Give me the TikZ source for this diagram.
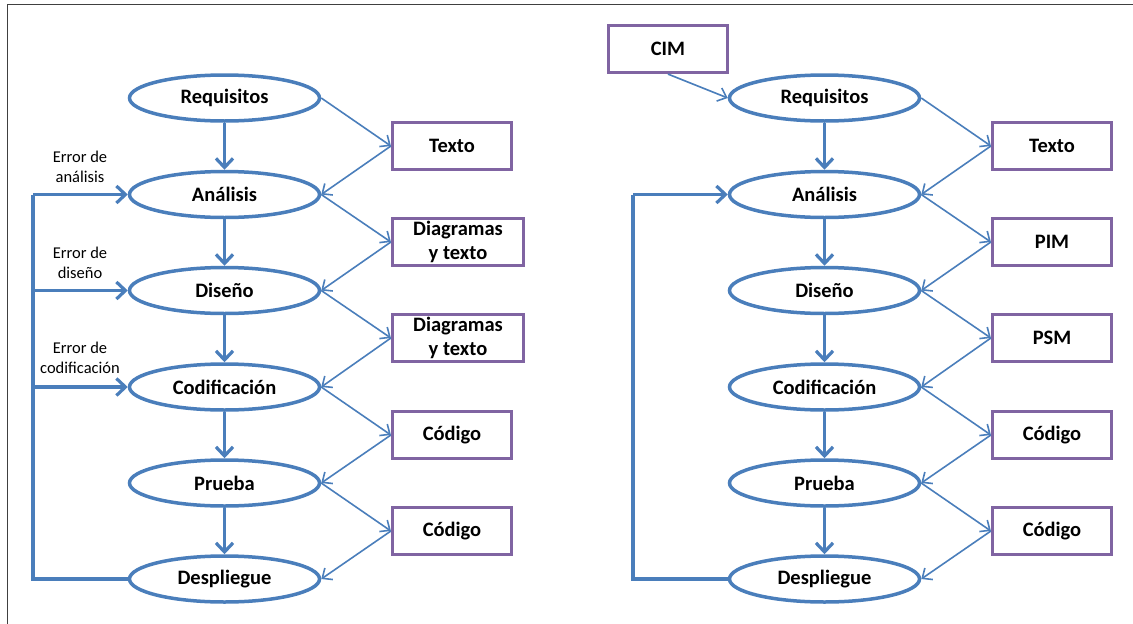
\documentclass[tikz,border=0pt]{standalone}
\usepackage{fontspec}
\setmainfont{Carlito}
\usetikzlibrary{arrows.meta,shapes.geometric}
\definecolor{flowblue}{HTML}{4A7EBB}
\definecolor{boxpurple}{HTML}{8064A2}
\definecolor{framegray}{HTML}{404040}
\begin{document}
\begin{tikzpicture}[x=1pt,y=-1pt,
  stage/.style={ellipse, draw=flowblue, line width=3.5pt, fill=white,
    minimum width=190pt, minimum height=46pt, inner sep=0pt,
    font=\fontsize{20.5}{24}\selectfont\bfseries},
  artefact/.style={rectangle, draw=boxpurple, line width=3.2pt, fill=white,
    minimum width=119pt, minimum height=47pt, inner sep=0pt, align=center,
    font=\fontsize{20.5}{24}\selectfont\bfseries},
  widebox/.style={artefact, minimum width=131pt},
  flow/.style={draw=flowblue, line width=3.2pt, -{Straight Barb[length=9pt,width=17pt]}},
  link/.style={draw=flowblue, line width=1.6pt, -{Straight Barb[length=8pt,width=14pt]}},
  feedback/.style={draw=flowblue, line width=3.2pt},
  note/.style={align=center, font=\fontsize{16.5}{20}\selectfont}
]
\useasboundingbox (0,0) rectangle (1133,624);

% page frame (left and top edges)
\draw[framegray, line width=1.6pt] (7.5,624) -- (7.5,4.5) -- (1133,4.5);

% ---------------- classic process ----------------
\node[stage] (a1) at (224.5,98)  {Requisitos};
\node[stage] (a2) at (224.5,194.5) {Análisis};
\node[stage] (a3) at (224.5,290.5) {Diseño};
\node[stage] (a4) at (224.5,387) {Codificación};
\node[stage] (a5) at (224.5,483) {Prueba};
\node[stage] (a6) at (224.5,579) {Despliegue};

\node[artefact] (ab1) at (452,146) {Texto};
\node[widebox]  (ab2) at (458,242) {Diagramas\\y texto};
\node[widebox]  (ab3) at (458,338) {Diagramas\\y texto};
\node[artefact] (ab4) at (452,435) {Código};
\node[artefact] (ab5) at (452,531) {Código};

\foreach \i/\j in {1/2,2/3,3/4,4/5,5/6}{
  \draw[flow] (a\i.south) -- (a\j.north);
  \draw[link] (a\i.east) -- (ab\i.west);
  \draw[link] (ab\i.west) -- (a\j.east);
}

\coordinate (aL) at (33,0);
\draw[feedback] (a6.west) -- (a6.west -| aL) -- (a2.west -| aL);
\draw[flow] (a2.west -| aL) -- (a2.west);
\draw[flow] (a3.west -| aL) -- (a3.west);
\draw[flow] (a4.west -| aL) -- (a4.west);

\node[note] (n1) at (80,167) {Error de\\análisis};
\node[note] (n2) at (80,263) {Error de\\diseño};
\node[note] (n3) at (80,358) {Error de\\codificación};

% ---------------- model-driven process ----------------
\node[stage] (b1) at (824.5,98)  {Requisitos};
\node[stage] (b2) at (824.5,194.5) {Análisis};
\node[stage] (b3) at (824.5,290.5) {Diseño};
\node[stage] (b4) at (824.5,387) {Codificación};
\node[stage] (b5) at (824.5,483) {Prueba};
\node[stage] (b6) at (824.5,579) {Despliegue};

\node[artefact] (cim) at (668,49) {CIM};
\node[artefact] (bb1) at (1052,146) {Texto};
\node[artefact] (bb2) at (1052,242) {PIM};
\node[artefact] (bb3) at (1052,338) {PSM};
\node[artefact] (bb4) at (1052,435) {Código};
\node[artefact] (bb5) at (1052,531) {Código};

\draw[link] (cim.south) -- (b1.west);
\foreach \i/\j in {1/2,2/3,3/4,4/5,5/6}{
  \draw[flow] (b\i.south) -- (b\j.north);
  \draw[link] (b\i.east) -- (bb\i.west);
  \draw[link] (bb\i.west) -- (b\j.east);
}

\coordinate (bL) at (633,0);
\draw[feedback] (b6.west) -- (b6.west -| bL) -- (b2.west -| bL);
\draw[flow] (b2.west -| bL) -- (b2.west);
\end{tikzpicture}
\end{document}
